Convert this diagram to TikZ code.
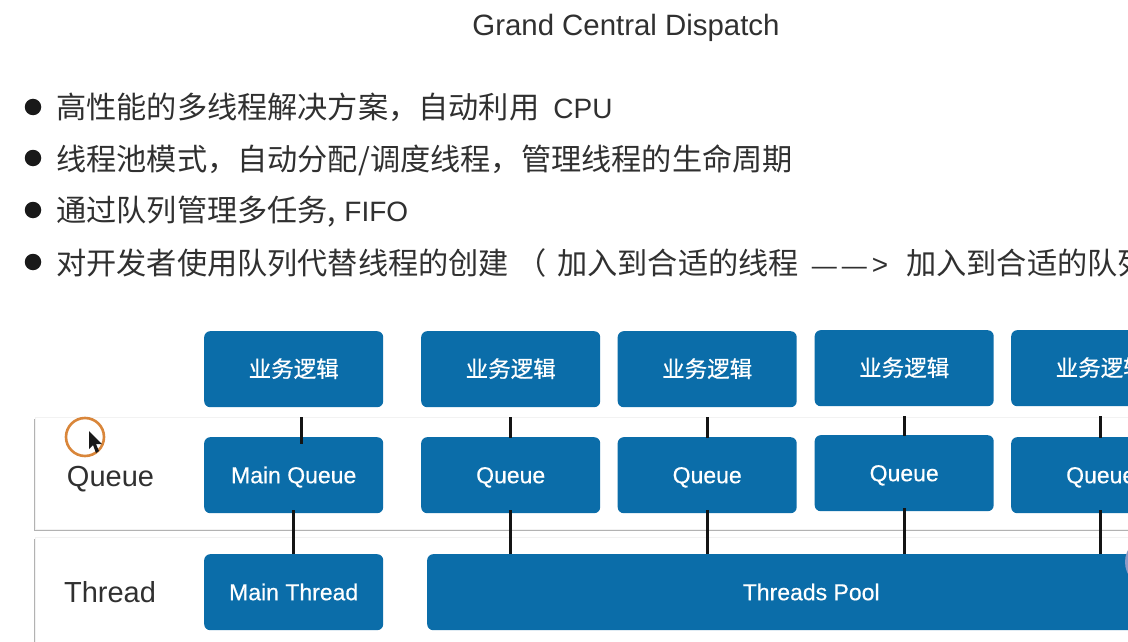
\documentclass[tikz,border=0pt]{standalone}
\usepackage{fontspec}
\setmainfont{Liberation Sans}
\newfontfamily\cjk{Noto Sans CJK SC}
\newfontfamily\boxlatin[RawFeature={embolden=0.5}]{Liberation Sans}
\newfontfamily\boxcjk[RawFeature={embolden=0.5}]{Noto Sans CJK SC}
\usetikzlibrary{shadows}
\definecolor{boxblue}{HTML}{0B6DA9}
\definecolor{ink}{HTML}{303030}
\definecolor{avatar}{HTML}{8C9AC6}
\tikzset{
  bluebox/.style={draw=none,fill=boxblue,rounded corners=6pt,text=white,inner sep=0pt,
    minimum width=179pt,minimum height=76pt,anchor=north west,text height=16pt,text depth=0pt,
    font=\boxlatin\fontsize{23}{26}\selectfont},
  cjkbox/.style={bluebox,text height=19pt,text depth=3pt,font=\boxcjk\fontsize{22.5}{25}\selectfont},
  lane/.style={draw=black!5,fill=white,anchor=north west,inner sep=0pt,minimum width=1120pt,
    drop shadow={shadow xshift=-1pt,shadow yshift=-2.2pt,opacity=.3,fill=black}},
  link/.style={draw=black!92,line width=2.8pt},
  bullet/.style={circle,fill=black!90,minimum size=16.5pt,inner sep=0pt},
  line/.style={anchor=west,inner sep=0pt,text=ink,font=\cjk\fontsize{30.2}{33}\selectfont},
  lanelabel/.style={inner sep=0pt,text=ink,font=\fontsize{29}{32}\selectfont},
}
\newcommand{\latinpart}[1]{{\rmfamily\fontsize{28}{31}\selectfont #1}}
\begin{document}
\begin{tikzpicture}[x=1pt,y=-1pt]
\useasboundingbox (0,0) rectangle (1128,642);
\clip (0,0) rectangle (1128,642);
\fill[white] (0,0) rectangle (1128,642);
\node[inner sep=0pt,text=ink,font=\fontsize{29.4}{32}\selectfont] (title) at (626,28) {Grand Central Dispatch};
\foreach \n/\y in {a/107,b/158,c/210,d/262} \node[bullet] (bul\n) at (33,\y) {};
\node[line] (l1) at (56,107) {高性能的多线程解决方案，自动利用\hspace{14pt}\latinpart{CPU}};
\node[line] (l2) at (56,160) {线程池模式，自动分配/调度线程，管理线程的生命周期};
\node[line] (l3) at (56,212) {通过队列管理多任务,\hspace{8pt}\latinpart{FIFO}};
\node[line] (l4) at (56,263) {对开发者使用队列代替线程的创建\hspace{7pt}（\hspace{11pt}加入到合适的线程\hspace{13pt}{\rmfamily\fontsize{25}{28}\selectfont —\hspace{5pt}—\hspace{5pt}{\fontsize{28}{30}\selectfont >}}\hspace{18pt}加入到合适的队列};
\node[lane,minimum height=112pt] (qlane) at (35,417) {};
\node[lane,minimum height=110pt] (tlane) at (35,537) {};
\node[lanelabel] (qlab) at (110.5,479) {Queue};
\node[lanelabel] (tlab) at (110,592.5) {Thread};
% cursor
\node[circle,draw={rgb,255:red,217;green,134;blue,58},line width=2.6pt,minimum size=38pt,inner sep=0pt] (halo) at (85,437) {};
\fill[black!90] (89,431) -- (89,449) -- (93,445) -- (96,453) -- (99,451) -- (96,444) -- (102,444) -- cycle;
% boxes
\node[cjkbox] (b1) at (204,331) {业务逻辑};
\node[cjkbox] (b2) at (421,331) {业务逻辑};
\node[cjkbox] (b3) at (617.5,331) {业务逻辑};
\node[cjkbox] (b4) at (814.5,330) {业务逻辑};
\node[cjkbox] (b5) at (1011,330) {业务逻辑};
\node[bluebox] (q1) at (204,437) {Main Queue};
\node[bluebox] (q2) at (421,437) {Queue};
\node[bluebox] (q3) at (617.5,437) {Queue};
\node[bluebox] (q4) at (814.5,435) {Queue};
\node[bluebox] (q5) at (1011,437) {Queue};
\node[bluebox] (t1) at (204,554) {Main Thread};
\node[bluebox,minimum width=768pt] (pool) at (427,554) {Threads Pool};
% connectors
\draw[link,shorten <=10pt,shorten >=-7pt] ([xshift=7.5pt]b1.south) -- ([xshift=7.5pt]q1.north);
\foreach \i in {2,3,4,5} \draw[link,shorten <=10pt,shorten >=-1pt] (b\i.south) -- (q\i.north);
\draw[link,shorten <=-3pt] (q1.south) -- (t1.north);
\foreach \i in {2,3,4,5} \draw[link,shorten <=-3pt] (q\i.south) -- (q\i.south |- pool.north);
\fill[avatar] (1151,562) circle (26);
\end{tikzpicture}
\end{document}
